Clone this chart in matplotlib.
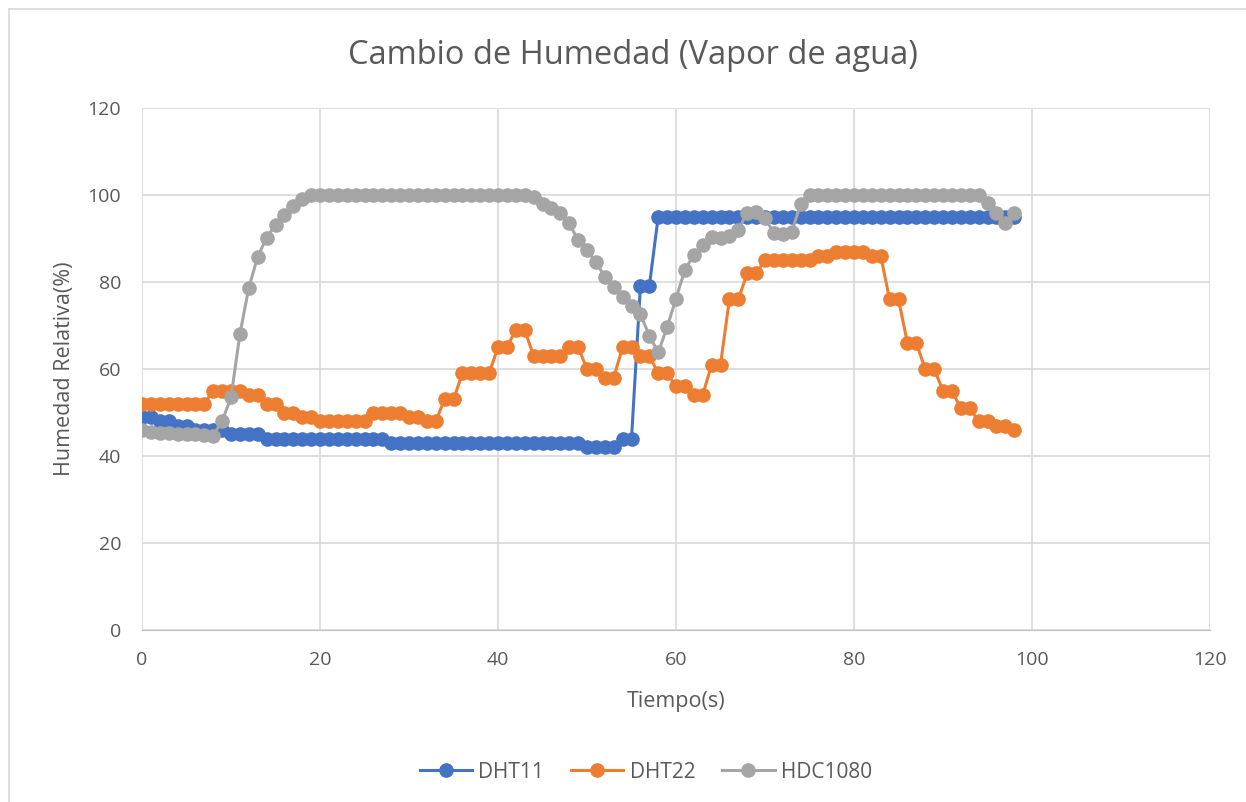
import matplotlib.pyplot as plt
from matplotlib.lines import Line2D

# Datos
tiempo = list(range(0, 99))

dht11 = [49, 49, 48, 48, 47, 47, 46, 46, 46, 46,
         45, 45, 45, 45] + [44] * 14 + [43] * 22 + [42] * 4 + [44, 44, 79, 79] + [95] * 41

dht22 = [52] * 8 + [55, 55, 55, 55, 54, 54, 52, 52, 50, 50, 49, 49] + [48] * 6 + \
        [50, 50, 50, 50, 49, 49, 48, 48, 53, 53, 59, 59, 59, 59, 65, 65, 69, 69,
         63, 63, 63, 63, 65, 65, 60, 60, 58, 58, 65, 65, 63, 63, 59, 59, 56, 56,
         54, 54, 61, 61, 76, 76, 82, 82, 85, 85, 85, 85, 85, 85, 86, 86, 87, 87,
         87, 87, 86, 86, 76, 76, 66, 66, 60, 60, 55, 55, 51, 51, 48, 48, 47, 47, 46]

hdc1080 = [46, 45.6, 45.4, 45.3, 45.1, 45, 45, 44.9, 44.7, 48, 53.5, 68, 78.7, 85.8,
           90.2, 93.2, 95.4, 97.5, 99] + [100] * 25 + \
          [99.6, 98, 96.9, 95.8, 93.5, 89.6, 87.3, 84.6, 81.2, 78.8, 76.5, 74.4,
           72.6, 67.7, 63.8, 69.6, 76.2, 82.8, 86.2, 88.5, 90.4, 90.2, 90.5, 92,
           95.9, 96.2, 94.6, 91.3, 91, 91.5, 97.9] + [100] * 20 + [98.2, 95.8, 93.5, 95.9]

series = [("DHT11", dht11, "#4472C4"),
          ("DHT22", dht22, "#ED7D31"),
          ("HDC1080", hdc1080, "#A5A5A5")]

plt.rcParams['font.family'] = ['Open Sans', 'DejaVu Sans']
gris = "#595959"

fig = plt.figure(figsize=(12.46, 8.02), dpi=100)
ax = fig.add_axes([142 / 1246, 1 - 630 / 802, (1210 - 142) / 1246, (630 - 108) / 802])

for nombre, valores, color in series:
    ax.plot(tiempo, valores, color=color, linewidth=2.2, marker='o',
            markersize=9.5, label=nombre, zorder=3)

ax.set_xlim(0, 120)
ax.set_ylim(0, 120)
ax.set_xticks(range(0, 121, 20))
ax.set_yticks(range(0, 121, 20))
ax.grid(True, color="#D9D9D9", linewidth=1.2, zorder=0)
for s in ["top", "right", "left"]:
    ax.spines[s].set_visible(False)
ax.spines["bottom"].set_color("#BFBFBF")
ax.tick_params(length=0, labelsize=14, labelcolor=gris)
ax.tick_params(axis="x", pad=15)
ax.tick_params(axis="y", pad=15)

fig.text(633 / 1246, 1 - 55 / 802, "Cambio de Humedad (Vapor de agua)", fontsize=23.5,
         color=gris, ha="center", va="center")
ax.set_xlabel("Tiempo(s)", fontsize=15.5, color=gris, labelpad=16)
ax.set_ylabel("Humedad Relativa(%)", fontsize=15.5, color=gris, labelpad=9)

ax.legend(loc="center", bbox_to_anchor=(646 / 1246, 1 - 772 / 802),
          bbox_transform=fig.transFigure, ncol=3, frameon=False,
          fontsize=15, labelcolor=gris, handlelength=2.5, handletextpad=0.3,
          columnspacing=1.3)

# borde del grafico (solo arriba e izquierda visibles)
fig.add_artist(Line2D([9 / 1246, 1], [1 - 9 / 802, 1 - 9 / 802], transform=fig.transFigure,
                      color="#D9D9D9", linewidth=1.2))
fig.add_artist(Line2D([9 / 1246, 9 / 1246], [0, 1 - 9 / 802], transform=fig.transFigure,
                      color="#D9D9D9", linewidth=1.2))

plt.savefig("out.png", dpi=100)
